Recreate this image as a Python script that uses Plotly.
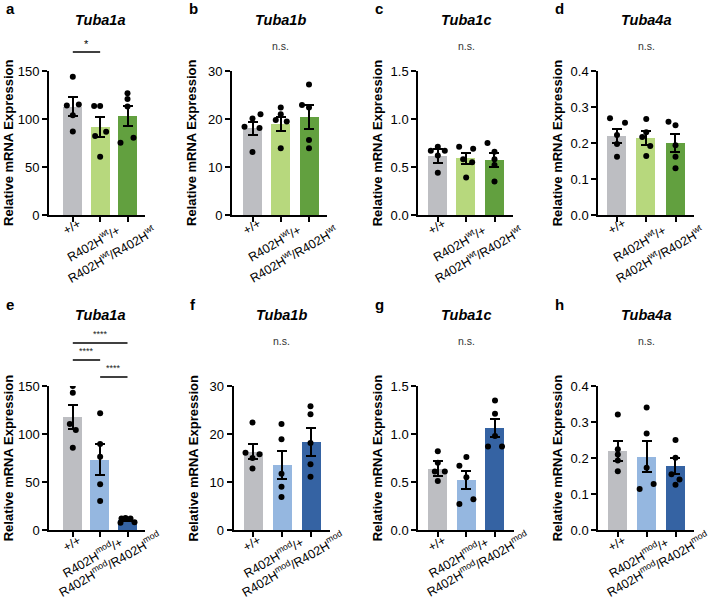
import plotly.graph_objects as go

# ---------------- data ----------------
GENES = ["Tuba1a", "Tuba1b", "Tuba1c", "Tuba4a"]
LABELS_WT = ["+/+", "R402H<sup>wt</sup>/+", "R402H<sup>wt</sup>/R402H<sup>wt</sup>"]
LABELS_MOD = ["+/+", "R402H<sup>mod</sup>/+", "R402H<sup>mod</sup>/R402H<sup>mod</sup>"]

a_mean = [112.8, 92.0, 103.0]
a_sem = [9.7, 10.4, 10.8]
a_pts = [[144, 115, 114, 104, 87], [113.5, 113.5, 86.8, 82.3, 60.8], [126.7, 120.8, 113, 80.5, 75.3]]

b_mean = [18.1, 18.9, 20.4]
b_sem = [1.35, 1.45, 2.5]
b_pts = [[21, 20.1, 18.4, 18.1, 13.1], [22.4, 21, 19.8, 19.5, 13.9], [27.2, 22.9, 22.4, 15.6, 13.9]]

c_mean = [0.615, 0.59, 0.575]
c_sem = [0.07, 0.055, 0.075]
c_pts = [[0.71, 0.67, 0.67, 0.62, 0.44], [0.71, 0.69, 0.58, 0.55, 0.39], [0.75, 0.66, 0.58, 0.52, 0.35]]

d_mean = [0.22, 0.214, 0.2]
d_sem = [0.02, 0.02, 0.026]
d_pts = [[0.269, 0.256, 0.222, 0.197, 0.162], [0.267, 0.23, 0.217, 0.192, 0.164], [0.259, 0.249, 0.194, 0.162, 0.13]]

e_mean = [117.5, 73.3, 10.2]
e_sem = [12.3, 16.2, 1.0]
e_pts = [[150, 143, 110.4, 104.2, 85.7], [121.5, 89.6, 76.4, 47.6, 30.2], [12.5, 12, 12, 8, 7.5]]

f_mean = [16.3, 13.5, 18.3]
f_sem = [1.6, 2.95, 2.9]
f_pts = [[22.4, 16.1, 15.8, 15, 12.8], [22.1, 18.9, 11.7, 9.0, 6.9], [25.8, 24.1, 18.1, 13.7, 11.1]]

g_mean = [0.64, 0.52, 1.065]
g_sem = [0.075, 0.097, 0.095]
g_pts = [[0.82, 0.70, 0.61, 0.61, 0.51], [0.76, 0.67, 0.55, 0.32, 0.27], [1.35, 1.21, 0.98, 0.87, 0.87]]

h_mean = [0.22, 0.204, 0.178]
h_sem = [0.027, 0.043, 0.023]
h_pts = [[0.321, 0.224, 0.21, 0.193, 0.163], [0.34, 0.268, 0.173, 0.128, 0.114], [0.25, 0.201, 0.155, 0.14, 0.126]]

Y_MAX = [150, 30, 1.5, 0.4]
Y_DTICK = [50, 10, 0.5, 0.1]
Y_FMT = ["d", "d", ".1f", ".1f"]

# ---------------- layout / style constants ----------------
W, H = 708, 601
FONT = "Liberation Sans, Arial, Helvetica, sans-serif"
GREENS = ["#bdbec2", "#b7d87d", "#62a03f"]
BLUES = ["#bdbec2", "#95b7e0", "#3563a3"]

# point x-jitter in pixels (layout only)
JIT = {
    "a": [[0, 6, -6, 0, 0], [-6, 0, 6, -5, 0], [0, 0, 0, 6, -7]],
    "b": [[8, 0, -8, 7, 0], [0, 0, -5, 6, 0], [0, -7, 0, 0, 0]],
    "c": [[0, -7, 7, 0, 0], [-7, 7, -3, 6, 0], [-7, 0, 0, 0, 0]],
    "d": [[-7, 8, 0, 0, 0], [0, 0, -4, 4, 0], [-7, 0, 0, 0, 0]],
    "e": [[0, 0, -3, 3, 0], [0, 0, 0, 0, 0], [-2, -6, 3, 7, -7]],
    "f": [[0, -7, 7, 0, 0], [0, 0, 0, 0, 0], [0, 0, 0, 0, 0]],
    "g": [[0, 0, -3, 7, 0], [0, -7, 0, 7, -7], [0, 0, 0, -7, 7]],
    "h": [[0, 0, 0, 0, 0], [0, 0, 0, 7, -7], [0, 0, -4, 4, 0]],
}
# x pixel geometry: axis start, first bar centre, last bar centre, axis end
GEOM = {
    "a": (49, 72.8, 127.5, 145), "b": (232, 252.5, 309, 327),
    "c": (418.3, 437.8, 494.5, 513), "d": (598.3, 617, 675.5, 694),
    "e": (49.3, 72.8, 127.5, 145), "f": (233.5, 252.5, 310.5, 330),
    "g": (418.3, 437.8, 495, 514), "h": (598.3, 617.8, 675.5, 694),
}
ROWS = {"top": (215, 71), "bot": (530, 386)}
BAR_PX = 19
# rotated category label centres relative to (tick x, axis y), pixels
LBL_OFF = {"top": [(-0.5, 12), (-7, 28), (-16, 39)],
           "bot": [(-1, 14), (-8, 27), (-18, 34)]}

panels = [
    ("a", "top", 0, a_mean, a_sem, a_pts),
    ("b", "top", 1, b_mean, b_sem, b_pts),
    ("c", "top", 2, c_mean, c_sem, c_pts),
    ("d", "top", 3, d_mean, d_sem, d_pts),
    ("e", "bot", 0, e_mean, e_sem, e_pts),
    ("f", "bot", 1, f_mean, f_sem, f_pts),
    ("g", "bot", 2, g_mean, g_sem, g_pts),
    ("h", "bot", 3, h_mean, h_sem, h_pts),
]


def py(p):
    return 1 - p / H


fig = go.Figure()
annotations = []
shapes = []
layout = {}

for k, (letter, row, gi, means, sems, pts) in enumerate(panels):
    n = k + 1
    xa = "x" if n == 1 else f"x{n}"
    ya = "y" if n == 1 else f"y{n}"
    s0, c0, c2, s1 = GEOM[letter]
    sp = (c2 - c0) / 2
    y0px, y1px = ROWS[row]
    colors = GREENS if row == "top" else BLUES
    labels = LABELS_WT if row == "top" else LABELS_MOD

    fig.add_trace(go.Bar(
        x=[0, 1, 2], y=means, width=BAR_PX / sp,
        marker=dict(color=colors, line=dict(width=0)),
        error_y=dict(type="data", array=sems, visible=True, color="black", thickness=2, width=5),
        xaxis=xa, yaxis=ya, showlegend=False, hoverinfo="skip",
    ))
    xs, ys = [], []
    for i in range(3):
        for j, v in enumerate(pts[i]):
            xs.append(i + JIT[letter][i][j] / sp)
            ys.append(v)
    fig.add_trace(go.Scatter(
        x=xs, y=ys, mode="markers", marker=dict(color="black", size=6),
        xaxis=xa, yaxis=ya, showlegend=False, hoverinfo="skip",
    ))

    layout["xaxis" if n == 1 else f"xaxis{n}"] = dict(
        domain=[s0 / W, s1 / W], anchor=ya, automargin=False,
        range=[-(c0 - s0) / sp, 2 + (s1 - c2) / sp],
        showline=True, linecolor="black", linewidth=2, mirror=False,
        ticks="outside", ticklen=5, tickwidth=1.5, tickcolor="black",
        tickmode="array", tickvals=[0, 1, 2], ticktext=["", "", ""], showticklabels=False,
        showgrid=False, zeroline=False, fixedrange=True,
    )
    layout["yaxis" if n == 1 else f"yaxis{n}"] = dict(
        domain=[py(y0px), py(y1px)], anchor=xa, automargin=False,
        range=[0, Y_MAX[gi]], dtick=Y_DTICK[gi], tick0=0, tickformat=Y_FMT[gi],
        showline=True, linecolor="black", linewidth=2,
        ticks="outside", ticklen=5, tickwidth=1.5, tickcolor="black",
        tickfont=dict(family=FONT, size=13, color="black"),
        showgrid=False, zeroline=False, fixedrange=True,
    )

    # rotated category labels
    for i in range(3):
        dx, dy = LBL_OFF[row][i]
        tick_px = c0 + i * sp
        annotations.append(dict(
            text=labels[i], textangle=-30, x=(tick_px + dx) / W, y=py(y0px + dy),
            xref="paper", yref="paper", showarrow=False, xanchor="center", yanchor="middle",
            font=dict(family=FONT, size=12.5, color="black"),
        ))

    top_off = 0 if row == "top" else 295
    # y-axis title
    annotations.append(dict(
        text="<b>Relative mRNA Expression</b>", textangle=-90,
        x=(s0 - 41) / W, y=py((y0px + y1px) / 2), xref="paper", yref="paper",
        showarrow=False, font=dict(family=FONT, size=13, color="black"),
        xanchor="center", yanchor="middle",
    ))
    # gene title
    annotations.append(dict(
        text=f"<b><i>{GENES[gi]}</i></b>", x=1, xref=xa, y=py(20 + top_off), yref="paper",
        showarrow=False, font=dict(family=FONT, size=14.5, color="black"),
        xanchor="center", yanchor="middle",
    ))
    # panel letter
    annotations.append(dict(
        text=f"<b>{letter}</b>", x=(s0 - 45) / W, y=py(9 + top_off), xref="paper", yref="paper",
        showarrow=False, font=dict(family=FONT, size=15, color="black"),
        xanchor="left", yanchor="middle",
    ))

    if letter == "a":
        shapes.append(dict(type="line", xref=xa, yref="paper", x0=0, x1=1,
                           y0=py(52), y1=py(52), line=dict(color="black", width=1.5)))
        annotations.append(dict(text="*", x=0.5, xref=xa, y=py(44), yref="paper", showarrow=False,
                                font=dict(family=FONT, size=11, color="black"), yanchor="middle"))
    elif letter == "e":
        for (xa0, xa1, ly) in [(0, 2, 343), (0, 1, 360), (1, 2, 377)]:
            shapes.append(dict(type="line", xref=xa, yref="paper", x0=xa0, x1=xa1,
                               y0=py(ly), y1=py(ly), line=dict(color="black", width=1.5)))
            annotations.append(dict(text="****", x=(xa0 + xa1) / 2, xref=xa, y=py(ly - 9),
                                    yref="paper", showarrow=False,
                                    font=dict(family=FONT, size=9, color="#222"), yanchor="middle"))
    else:
        annotations.append(dict(text="n.s.", x=1, xref=xa, y=py(46 + top_off), yref="paper",
                                showarrow=False, font=dict(family=FONT, size=10.5, color="#333"),
                                yanchor="middle"))

fig.update_layout(
    template="none",
    width=W, height=H, margin=dict(l=0, r=0, t=0, b=0, pad=0, autoexpand=False),
    paper_bgcolor="white", plot_bgcolor="white",
    annotations=annotations, shapes=shapes, bargap=0,
    font=dict(family=FONT, color="black"),
    **layout,
)

fig.write_html(
    "out.html",
    config={"displayModeBar": False},
    post_script="document.body.style.margin='0';document.body.style.padding='0';"
                "document.body.style.overflow='hidden';",
)
